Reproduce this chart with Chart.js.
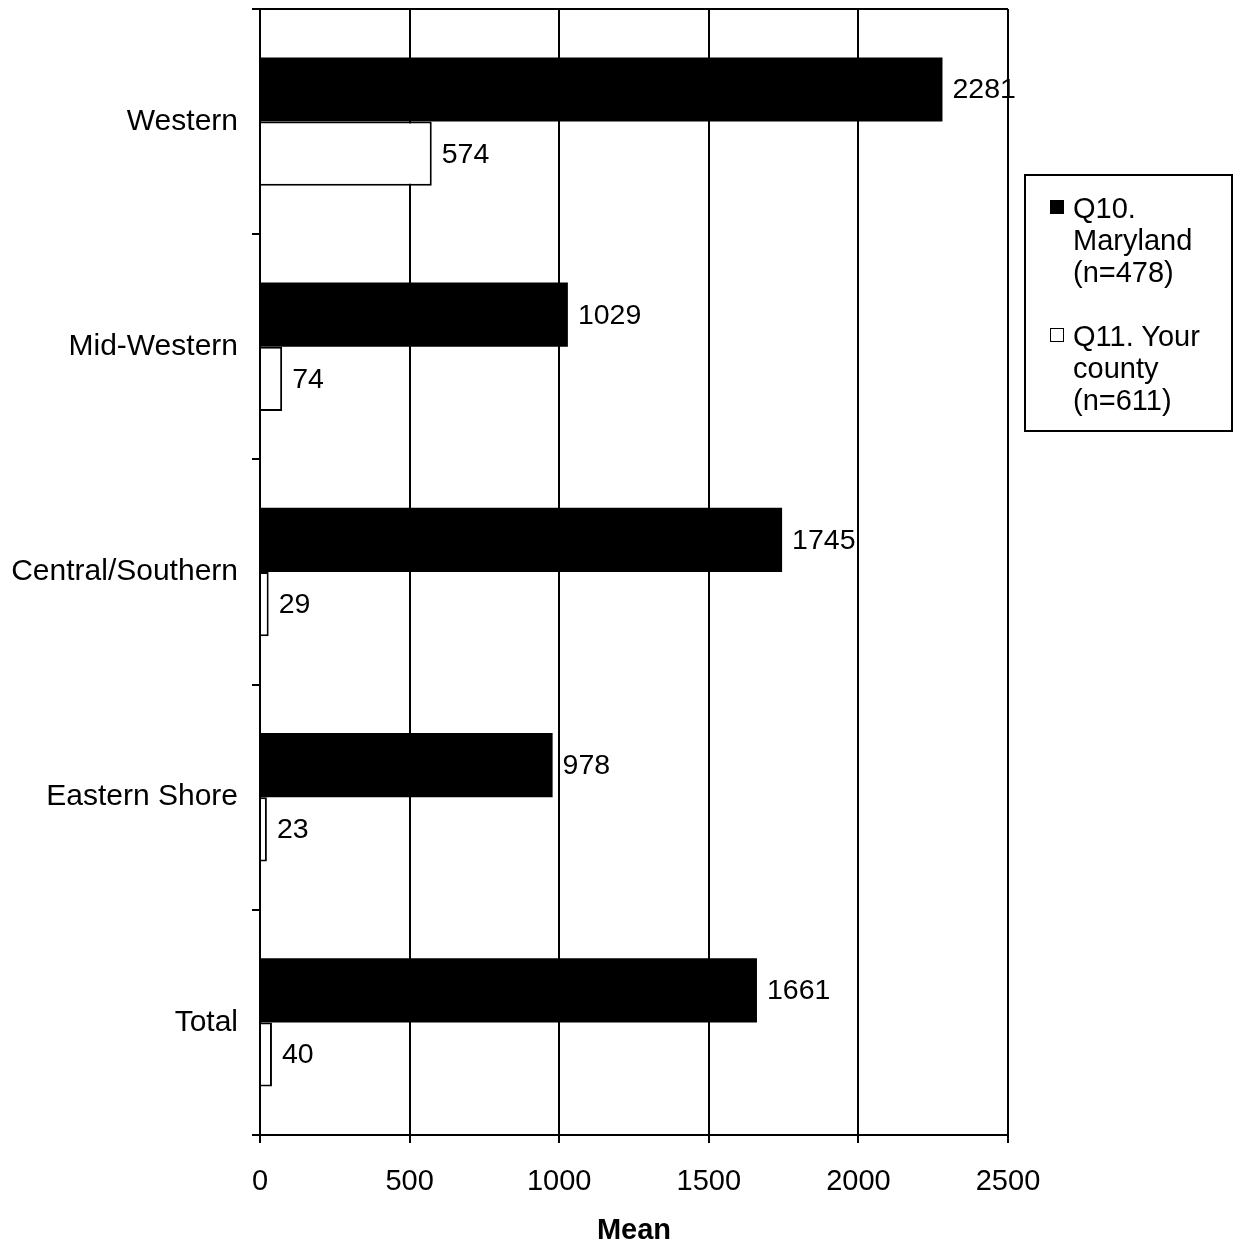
<!DOCTYPE html>
<html>
<head>
<meta charset="utf-8">
<script src="https://cdn.jsdelivr.net/npm/chart.js@4"></script>
<style>
  body { margin: 0; background: #fff; font-family: Arial, "Liberation Sans", sans-serif; }
  #wrap { position: relative; width: 1235px; height: 1245px; }
  #legend { position: absolute; left: 1024px; top: 174px; width: 205px; height: 254px;
            border: 2px solid #000; font-size: 29px; line-height: 32px; color: #000; }
  .item { position: absolute; left: 47px; white-space: nowrap; }
  .box { position: absolute; left: -23px; top: 8px; width: 12px; height: 12px; border: 1.5px solid #000; }
</style>
</head>
<body>
<div id="wrap">
  <canvas id="chart" width="1235" height="1245"></canvas>
  <div id="legend">
    <div class="item" style="top:16px"><span class="box" style="background:#000"></span>Q10.<br>Maryland<br>(n=478)</div>
    <div class="item" style="top:144px"><span class="box" style="background:#fff"></span>Q11. Your<br>county<br>(n=611)</div>
  </div>
</div>
<script>
var regions = ['Western', 'Mid-Western', 'Central/Southern', 'Eastern Shore', 'Total'];
var maryland = [2281, 1029, 1745, 978, 1661];
var county = [574, 74, 29, 23, 40];
var xTicks = [0, 500, 1000, 1500, 2000, 2500];

var FONT = 'Arial, "Liberation Sans", sans-serif';

// numbers to the right of each bar
var valueLabels = {
  id: 'valueLabels',
  afterDatasetsDraw: function(chart) {
    var ctx = chart.ctx;
    ctx.save();
    ctx.font = '28.5px ' + FONT;
    ctx.fillStyle = '#000';
    ctx.textBaseline = 'middle';
    chart.data.datasets.forEach(function(ds, i) {
      chart.getDatasetMeta(i).data.forEach(function(bar, j) {
        ctx.fillText(ds.data[j], bar.x + 10, bar.y + 1);
      });
    });
    ctx.restore();
  }
};

// top border of the plot area with its tick
var topLine = {
  id: 'topLine',
  afterDraw: function(chart) {
    var a = chart.chartArea, ctx = chart.ctx;
    ctx.save();
    ctx.strokeStyle = '#000';
    ctx.lineWidth = 2;
    ctx.beginPath();
    ctx.moveTo(a.left - 8, a.top);
    ctx.lineTo(a.right, a.top);
    ctx.stroke();
    ctx.restore();
  }
};

var myChart = new Chart('chart', {
  type: 'bar',
  data: {
    labels: regions,
    datasets: [
      {
        label: 'Q10. Maryland (n=478)',
        data: maryland,
        backgroundColor: '#000',
        borderColor: '#000',
        borderWidth: 0
      },
      {
        label: 'Q11. Your county (n=611)',
        data: county,
        backgroundColor: '#fff',
        borderColor: '#000',
        borderWidth: 2
      }
    ]
  },
  options: {
    indexAxis: 'y',
    responsive: false,
    animation: false,
    categoryPercentage: 0.57,
    barPercentage: 1,
    layout: { padding: { top: 9, right: 227, left: 0, bottom: 0 } },
    plugins: { legend: { display: false }, tooltip: { enabled: false } },
    scales: {
      x: {
        min: 0,
        max: 2500,
        afterBuildTicks: function(s) { s.ticks = xTicks.map(function(v) { return { value: v }; }); },
        grid: { color: '#000', lineWidth: 2, tickLength: 8 },
        border: { color: '#000', width: 2 },
        ticks: { color: '#000', font: { size: 29, family: FONT }, padding: 22, maxRotation: 0,
                 callback: function(v) { return String(v); } },
        title: { display: true, text: 'Mean', color: '#000', font: { size: 29, weight: 'bold', family: FONT, lineHeight: 1 }, padding: { top: 10, bottom: 0 } },
        afterFit: function(s) { s.height = 110; s.paddingLeft = 0; s.paddingRight = 0; }
      },
      y: {
        grid: { offset: true, drawOnChartArea: false, color: '#000', lineWidth: 2, tickLength: 8 },
        border: { color: '#000', width: 2 },
        ticks: { color: '#000', font: { size: 30, family: FONT }, padding: 14 },
        afterFit: function(s) { s.width = 260; s.paddingTop = 0; s.paddingBottom = 0; }
      }
    }
  },
  plugins: [valueLabels, topLine]
});
</script>
</body>
</html>
